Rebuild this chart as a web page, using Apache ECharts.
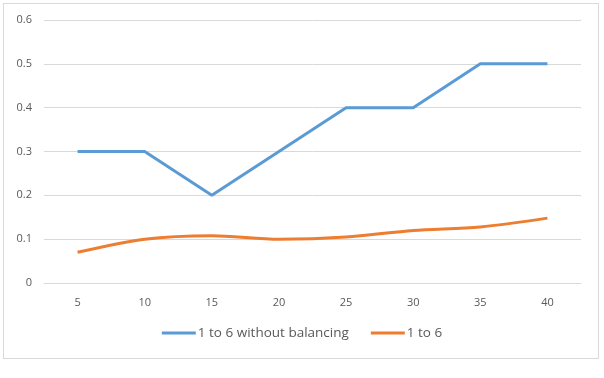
<!DOCTYPE html>
<html>
<head>
<meta charset="utf-8">
<script src="https://cdn.jsdelivr.net/npm/echarts@6/dist/echarts.min.js"></script>
<style>
    html, body {margin: 0; padding: 0; background: #fff;}
    #frame {position: absolute; left: 3px; top: 3px; width: 596px; height: 356px; border: 1px solid #d9d9d9; box-sizing: border-box;}
    #chart {position: absolute; left: 0; top: 0; width: 604px; height: 378px;}
</style>
</head>
<body>
<div id="frame"></div>
<div id="chart"></div>
<script>
var categories = ['5', '10', '15', '20', '25', '30', '35', '40'];
var withoutBalancing = [0.3, 0.3, 0.2, 0.3, 0.4, 0.4, 0.5, 0.5];
var balanced = [0.07, 0.1, 0.108, 0.1, 0.105, 0.12, 0.128, 0.148];
var seriesNames = ['1 to 6 without balancing', '1 to 6'];

var textColor = '#595959';
var fontName = 'Open Sans';

var option = {
    animation: false,
    color: ['#5b9bd5', '#ed7d31'],
    grid: {left: 44, right: 23, top: 20, bottom: 95},
    legend: {
        data: seriesNames,
        bottom: 33,
        itemWidth: 34, itemHeight: 3, itemGap: 22,
        icon: 'rect',
        textStyle: {color: textColor, fontSize: 13.5, fontFamily: fontName, padding: [0, 0, 0, -3]}
    },
    xAxis: {
        type: 'category',
        data: categories,
        boundaryGap: true,
        axisLine: {lineStyle: {color: '#d9d9d9'}},
        axisTick: {show: false},
        axisLabel: {color: textColor, fontSize: 11, fontFamily: fontName, margin: 14}
    },
    yAxis: {
        type: 'value',
        min: 0, max: 0.6, interval: 0.1,
        axisLine: {show: false},
        axisTick: {show: false},
        splitLine: {lineStyle: {color: '#d9d9d9'}},
        axisLabel: {color: textColor, fontSize: 11, fontFamily: fontName, margin: 12,
            formatter: function (v) { return v === 0 ? '0' : v.toFixed(1); }}
    },
    series: [
        {name: seriesNames[0], type: 'line', data: withoutBalancing, symbol: 'none', lineStyle: {width: 3}},
        {name: seriesNames[1], type: 'line', data: balanced, symbol: 'none', smooth: 0.3, lineStyle: {width: 3}}
    ]
};

var chart = echarts.init(document.getElementById('chart'));
chart.setOption(option);
</script>
</body>
</html>
